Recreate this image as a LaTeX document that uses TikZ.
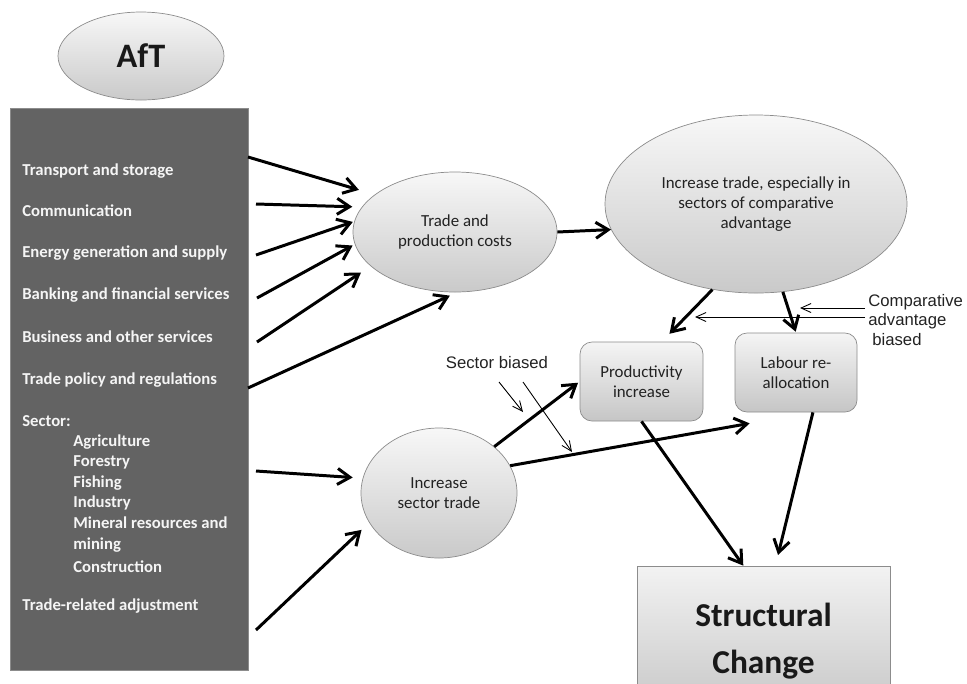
\documentclass[tikz,border=0pt]{standalone}
\usepackage{fontspec}
\setmainfont{Carlito}
\newfontfamily\arialfont{Liberation Sans}
\usetikzlibrary{arrows.meta,shapes.geometric}

\definecolor{boxgray}{HTML}{636363}
\definecolor{rimgray}{HTML}{8C8C8C}
\definecolor{inkgray}{HTML}{222222}

\tikzset{
  bubble/.style={ellipse, draw=rimgray, top color=gray!6, bottom color=gray!42,
    inner sep=0pt, text=inkgray, align=center, font=\fontsize{9.6}{11.5}\selectfont},
  tile/.style={rectangle, rounded corners=2.4mm, draw=rimgray, top color=gray!8,
    bottom color=gray!45, inner sep=0pt, text=inkgray, align=center,
    font=\fontsize{9.6}{11.5}\selectfont},
  item/.style={anchor=base west, text=gray!8, inner sep=0pt,
    font=\bfseries\fontsize{9.5}{11}\selectfont},
  flow/.style={line width=1.7pt, -{Straight Barb[length=2.5mm,width=3.2mm]}},
  bias/.style={line width=0.5pt, -{Straight Barb[length=2mm,width=1.8mm]}},
  note/.style={font=\arialfont\fontsize{9.5}{11.3}\selectfont, text=inkgray,
    align=left, inner sep=0pt},
}

\begin{document}
\begin{tikzpicture}[x=0.2mm,y=-0.2mm]
\useasboundingbox (0,0) rectangle (967,683);
%\draw[help lines,step=50] (0,0) grid (967,683);

% AfT and the list of categories
\node[ellipse, draw=rimgray, top color=gray!6, bottom color=gray!42, inner sep=0pt,
  minimum width=33.2mm, minimum height=17.6mm,
  font=\bfseries\fontsize{19.5}{21}\selectfont, text=black!90] (aft) at (141,56) {AfT};
\node[rectangle, draw=rimgray, fill=boxgray, minimum width=47.6mm,
  minimum height=112.4mm, inner sep=0pt] (list) at (129,389) {};

\node[item] (transport) at (22,175) {Transport and storage};
\node[item] (comm)      at (22,216) {Communication};
\node[item] (energy)    at (22,257) {Energy generation and supply};
\node[item] (banking)   at (22,299) {Banking and financial services};
\node[item] (business)  at (22,342) {Business and other services};
\node[item] (policy)    at (22,384) {Trade policy and regulations};
\node[item] (sector)    at (22,426) {Sector:};
\node[item] (agri)      at (73,446) {Agriculture};
\node[item] (forest)    at (73,466) {Forestry};
\node[item] (fish)      at (73,487) {Fishing};
\node[item] (industry)  at (73,507) {Industry};
\node[item] (mineral)   at (73,528) {Mineral resources and};
\node[item] (mining)    at (73,549) {mining};
\node[item] (constr)    at (73,572) {Construction};
\node[item] (adjust)    at (22,610) {Trade-related adjustment};

% effects
\node[bubble, minimum width=40.8mm, minimum height=24mm] (tpc) at (455,232)
  {Trade and\\production costs};
\node[bubble, minimum width=60.4mm, minimum height=35.6mm] (itr) at (756,204)
  {Increase trade, especially in\\sectors of comparative\\advantage};
\node[bubble, minimum width=31.2mm, minimum height=26mm] (sct) at (439,493)
  {Increase\\sector trade};
\node[tile, minimum width=24.6mm, minimum height=15.8mm] (prod) at (641.5,381.5)
  {Productivity\\increase};
\node[tile, minimum width=24.4mm, minimum height=15.8mm] (lab) at (796,372.5)
  {Labour re-\\allocation};
\node[rectangle, draw=rimgray, top color=gray!10, bottom color=gray!45, inner sep=0pt,
  minimum width=50.6mm, minimum height=30mm, align=center, text=black!90,
  font=\bfseries\fontsize{19}{26.5}\selectfont] (stc) at (763.5,641)
  {Structural\\Change};

\node[note] (sb) at (497,363) {Sector biased};
\node[note, anchor=west] (cab) at (868,320)
  {Comparative\\advantage\\\hspace*{0.8mm}biased};

% free ends
\coordinate (a1) at (248,157);
\coordinate (a2) at (256,204);
\coordinate (a3) at (256,255);
\coordinate (a4) at (257,298);
\coordinate (a5) at (257,342);
\coordinate (a6) at (248,388);
\coordinate (a7) at (256,471);
\coordinate (a8) at (256,630);
\coordinate (b1) at (499,382);
\coordinate (b1e) at (523,412);
\coordinate (b2) at (523,382);
\coordinate (b2e) at (572,452);
\coordinate (c1) at (865,308);
\coordinate (c1e) at (800,308);
\coordinate (c2) at (865,317);
\coordinate (c2e) at (695,317);

% into trade and production costs
\draw[flow, shorten >=3.3mm] (a1) -- (tpc.155);
\draw[flow, shorten >=1.9mm] (a2) -- (tpc.165);
\draw[flow, shorten >=0.3mm] (a3) -- (tpc.174);
\draw[flow, shorten >=0.5mm] (a4) -- (tpc.187);
\draw[flow, shorten >=2.3mm] (a5) -- (tpc.202);
\draw[flow, shorten >=1.6mm] (a6) -- (tpc.272);
% into sector trade
\draw[flow, shorten >=2mm] (a7) -- (sct.169);
\draw[flow, shorten >=2.1mm] (a8) -- (sct.203);

\draw[flow] (tpc.east) -- (itr.190);
\draw[flow, shorten >=2.2mm] (itr.243) -- (prod.63);
\draw[flow, shorten >=0.2mm] (itr.287) -- (lab.north);
\draw[flow, shorten >=0.4mm] (sct.40) -- (prod.west);
\draw[flow] (sct.21) -- ([xshift=3mm,yshift=-2.2mm]lab.south west);
\draw[flow] (prod.south) -- (stc.105);
\draw[flow, shorten >=2.2mm] (lab.293) -- (stc.81);

% bias notes
\draw[bias] (b1) -- (b1e);
\draw[bias] (b2) -- (b2e);
\draw[bias] (c1) -- (c1e);
\draw[bias] (c2) -- (c2e);
\end{tikzpicture}
\end{document}
